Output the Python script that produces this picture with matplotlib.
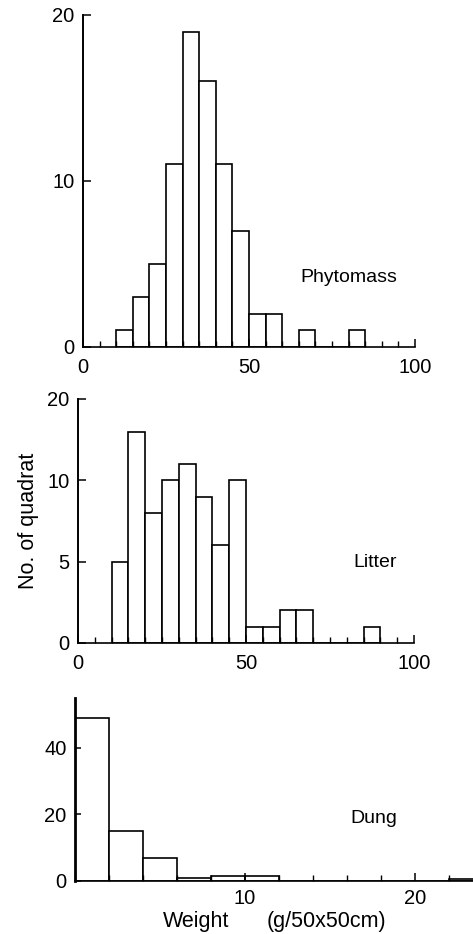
import numpy as np
import matplotlib
matplotlib.use("Agg")
import matplotlib.pyplot as plt

plt.rcParams['font.family'] = ['Liberation Sans', 'DejaVu Sans']

# histogram counts
phyto_start = 10
phyto_width = 5
phyto_counts = [1, 3, 5, 11, 19, 16, 11, 7, 2, 2, 0, 1, 0, 0, 1]

litter_start = 10
litter_width = 5
litter_counts = [5, 13, 8, 10, 11, 9, 6, 10, 1, 1, 2, 2, 0, 0, 0, 1]

dung_start = 0
dung_width = 2
dung_counts = [49, 15, 7, 1, 1.4, 1.4, 0, 0, 0, 0, 0, 0.5]

W, H = 473, 934
fig = plt.figure(figsize=(W / 100, H / 100), dpi=100)


def px_axes(left, right, bottom, top):
    return fig.add_axes([left / W, (H - bottom) / H, (right - left) / W, (bottom - top) / H])


def hist_bars(ax, start, width, counts):
    edges = start + width * np.arange(len(counts))
    ax.bar(edges, counts, width=width, align='edge', color='white',
           edgecolor='black', linewidth=1.2)


def style(ax):
    for s in ['top', 'right']:
        ax.spines[s].set_visible(False)
    ax.spines['left'].set_linewidth(1.4)
    ax.spines['bottom'].set_linewidth(1.2)
    ax.tick_params(direction='in', length=6, width=1.1, labelsize=14.5, pad=6)
    ax.tick_params(which='minor', direction='in', length=4, width=1.0)


# Phytomass
ax1 = px_axes(83, 415, 347, 15)
hist_bars(ax1, phyto_start, phyto_width, phyto_counts)
ax1.set_xlim(0, 100)
ax1.set_ylim(0, 20)
ax1.set_xticks([0, 50, 100])
ax1.set_xticks(np.arange(0, 101, 5), minor=True)
ax1.set_yticks([0, 10, 20])
style(ax1)
ax1.tick_params(axis='x', pad=8)
ax1.text(0.8, 0.21, 'Phytomass', transform=ax1.transAxes, ha='center', va='center', fontsize=14)

# Litter
ax2 = px_axes(78, 414, 643, 399)
hist_bars(ax2, litter_start, litter_width, litter_counts)
ax2.set_xlim(0, 100)
ax2.set_ylim(0, 15)
ax2.set_xticks([0, 50, 100])
ax2.set_xticks(np.arange(0, 101, 5), minor=True)
ax2.set_yticks([0, 5, 10, 15])
ax2.set_yticklabels(['0', '5', '10', '20'])
style(ax2)
ax2.tick_params(axis='x', pad=8)
ax2.text(0.885, 0.33, 'Litter', transform=ax2.transAxes, ha='center', va='center', fontsize=14)
ax2.set_ylabel('No. of quadrat', fontsize=15.5, labelpad=6)

# Dung
ax3 = px_axes(75, 473, 881, 698)
hist_bars(ax3, dung_start, dung_width, dung_counts)
ax3.set_xlim(0, 23.4)
ax3.set_ylim(0, 55)
ax3.set_xticks([10, 20])
ax3.set_xticks(np.arange(0, 24, 2), minor=True)
ax3.set_yticks([0, 20, 40])
style(ax3)
ax3.spines['left'].set_linewidth(2.0)
ax3.tick_params(axis='y', length=4)
ax3.tick_params(axis='x', pad=6)
ax3.text(0.75, 0.34, 'Dung', transform=ax3.transAxes, ha='center', va='center', fontsize=14)

# x label, two separate words as in the original
fig.text(163 / W, 1 - 922 / H, 'Weight', ha='left', va='center', fontsize=15.5)
fig.text(267 / W, 1 - 922 / H, '(g/50x50cm)', ha='left', va='center', fontsize=15.5)

fig.savefig('out.png', dpi=100)
